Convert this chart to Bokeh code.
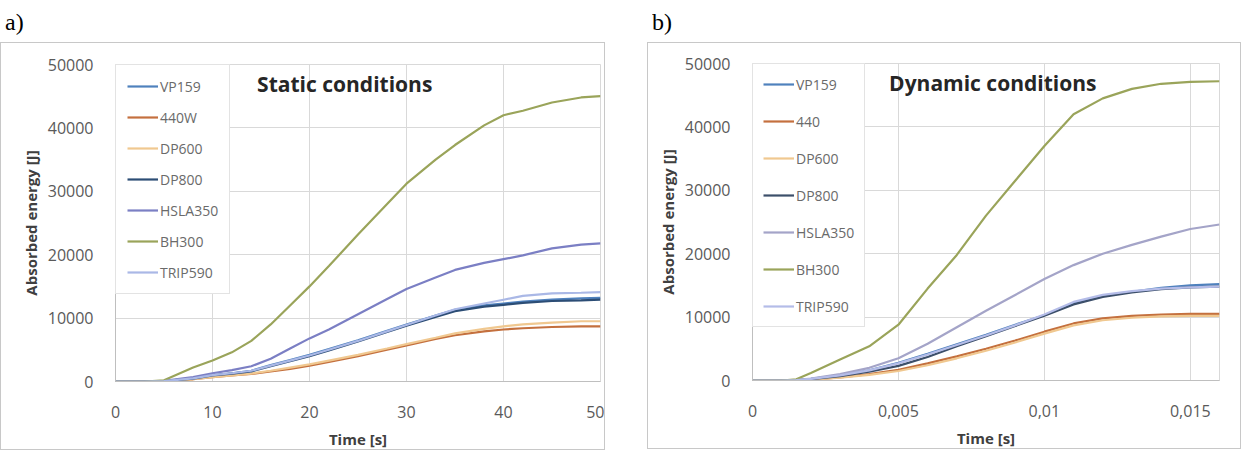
from bokeh.plotting import figure
from bokeh.models import Div, Label, Legend, LegendItem, FixedTicker, PrintfTickFormatter
from bokeh.layouts import row, column
from bokeh.embed import file_html
from bokeh.resources import INLINE

# ---------------- data ----------------
series_static = ["VP159", "440W", "DP600", "DP800", "HSLA350", "BH300", "TRIP590"]
series_dynamic = ["VP159", "440", "DP600", "DP800", "HSLA350", "BH300", "TRIP590"]

t_static = [0, 3, 5, 8, 10, 12, 14, 16, 18, 20, 22, 25, 28, 30, 33, 35, 38, 40, 42, 45, 48, 50]
static_VP159 = [0, 0, 50, 500, 1000, 1300, 1700, 2600, 3400, 4200, 5100, 6500, 8000, 9000, 10400, 11300, 12000, 12300, 12600, 12900, 13100, 13200]
static_440W = [0, 0, 50, 350, 700, 950, 1200, 1600, 2000, 2500, 3100, 4000, 5000, 5700, 6700, 7300, 7900, 8200, 8400, 8600, 8700, 8700]
static_DP600 = [0, 0, 50, 350, 700, 950, 1250, 1700, 2200, 2700, 3300, 4200, 5200, 5900, 6900, 7600, 8300, 8700, 9000, 9300, 9500, 9500]
static_DP800 = [0, 0, 50, 450, 950, 1250, 1600, 2400, 3200, 4000, 4900, 6300, 7800, 8800, 10200, 11100, 11800, 12100, 12400, 12700, 12800, 12900]
static_HSLA350 = [0, 0, 100, 700, 1300, 1800, 2400, 3600, 5200, 6800, 8200, 10600, 13000, 14600, 16400, 17600, 18700, 19300, 19900, 21000, 21600, 21800]
static_BH300 = [0, 0, 200, 2200, 3300, 4600, 6400, 9000, 12000, 15000, 18200, 23200, 28000, 31200, 35000, 37300, 40400, 42000, 42700, 44000, 44800, 45000]
static_TRIP590 = [0, 0, 50, 500, 1000, 1300, 1700, 2500, 3300, 4100, 5000, 6400, 7900, 8900, 10400, 11400, 12300, 12900, 13500, 13900, 14000, 14100]

t_dynamic = [0, 0.001, 0.0015, 0.002, 0.003, 0.004, 0.005, 0.006, 0.007, 0.008, 0.009, 0.010, 0.011, 0.012, 0.013, 0.014, 0.015, 0.016]
dyn_VP159 = [0, 0, 50, 250, 800, 1600, 2800, 4200, 5700, 7200, 8800, 10300, 12200, 13300, 14000, 14600, 15000, 15200]
dyn_440 = [0, 0, 30, 150, 500, 1000, 1700, 2700, 3800, 5000, 6300, 7700, 9000, 9800, 10200, 10400, 10500, 10500]
dyn_DP600 = [0, 0, 30, 150, 450, 900, 1500, 2400, 3500, 4700, 6000, 7400, 8700, 9500, 9900, 10100, 10200, 10200]
dyn_DP800 = [0, 0, 50, 200, 700, 1400, 2300, 3700, 5400, 7000, 8600, 10200, 12000, 13200, 13900, 14400, 14700, 14800]
dyn_HSLA350 = [0, 0, 50, 300, 1000, 2000, 3500, 5800, 8400, 11000, 13500, 16000, 18200, 20000, 21400, 22700, 23900, 24600]
dyn_BH300 = [0, 0, 200, 1200, 3300, 5400, 8800, 14500, 19800, 26000, 31500, 37000, 42000, 44500, 46000, 46800, 47100, 47200]
dyn_TRIP590 = [0, 0, 50, 250, 800, 1600, 2700, 4100, 5600, 7100, 8700, 10400, 12400, 13500, 14100, 14500, 14700, 14800]

y_ticks = [0, 10000, 20000, 30000, 40000, 50000]
x_ticks_static = [0, 10, 20, 30, 40, 50]
x_ticks_dynamic = [0, 0.005, 0.01, 0.015]
x_tick_labels_dynamic = ["0", "0,005", "0,01", "0,015"]

colors = ["#4f81bd", "#c4703e", "#f0c890", "#2c4d75", "#7b7fc4", "#9aa45a", "#aab8e6"]
colors_dyn = ["#4f81bd", "#c4703e", "#f0c890", "#3c4f6a", "#a4a4c8", "#9aa45a", "#b4bce8"]

FONT = "Open Sans"
TICK_COLOR = "#5a5a5a"


def make_fig(width, height, x_end, xticks, bl, br, bt, bb):
    p = figure(width=width, height=height, output_backend="svg", toolbar_location=None,
               x_range=(0, x_end), y_range=(0, 50000),
               min_border_left=bl, min_border_right=br, min_border_top=bt, min_border_bottom=bb)
    p.background_fill_color = "white"
    p.border_fill_color = "white"
    p.outline_line_color = "#d9d9d9"
    p.styles = {"border": "1px solid #c8c8c8", "box-sizing": "border-box"}
    for ax in (p.xaxis[0], p.yaxis[0]):
        ax.axis_line_color = "#bfbfbf"
        ax.major_tick_line_color = None
        ax.minor_tick_line_color = None
        ax.major_label_text_font = FONT
        ax.major_label_text_font_size = "16px"
        ax.major_label_text_color = TICK_COLOR
        ax.axis_label_text_font = FONT
        ax.axis_label_text_font_style = "bold"
        ax.axis_label_text_font_size = "15px"
        ax.axis_label_text_color = "#404040"
    p.xaxis.ticker = FixedTicker(ticks=xticks)
    p.yaxis.ticker = FixedTicker(ticks=y_ticks)
    p.yaxis.formatter = PrintfTickFormatter(format="%d")
    p.xaxis.major_label_standoff = 18
    p.yaxis.major_label_standoff = 16
    p.xaxis.axis_label_standoff = 8
    p.yaxis.axis_label_standoff = 4
    p.xaxis.axis_label = "Time [s]"
    p.yaxis.axis_label = "Absorbed energy [J]"
    p.xgrid.ticker = FixedTicker(ticks=xticks)
    p.ygrid.ticker = FixedTicker(ticks=y_ticks)
    p.grid.grid_line_color = "#d9d9d9"
    p.grid.grid_line_width = 1
    return p


def add_legend(p, items, spacing, padding):
    leg = Legend(items=items, location="top_left", margin=0,
                 label_text_font=FONT, label_text_font_size="14px", label_text_color="#6a6a6a",
                 glyph_width=31, glyph_height=20, label_height=20, label_standoff=2,
                 spacing=spacing, padding=padding,
                 border_line_color="#c8c8c8", background_fill_color="white", background_fill_alpha=1.0)
    p.add_layout(leg)


# ---------------- static ----------------
pa = make_fig(605, 408, 50, x_ticks_static, 114, 6, 21, 67)
static_data = [static_VP159, static_440W, static_DP600, static_DP800, static_HSLA350, static_BH300, static_TRIP590]
items_a = []
for name, ys, c in zip(series_static, static_data, colors):
    r = pa.line(t_static, ys, line_color=c, line_width=2.2)
    items_a.append(LegendItem(label=name, renderers=[r]))
add_legend(pa, items_a, 11, 11)
pa.add_layout(Label(x=14.6, y=47000, text="Static conditions", text_font=FONT, text_font_style="bold",
                    text_font_size="21px", text_color="#262626", text_baseline="middle"))

# ---------------- dynamic ----------------
pb = make_fig(594, 407, 0.016, x_ticks_dynamic, 104, 23, 20, 67)
pb.xaxis.major_label_overrides = {t: s for t, s in zip(x_ticks_dynamic, x_tick_labels_dynamic)}
dyn_data = [dyn_VP159, dyn_440, dyn_DP600, dyn_DP800, dyn_HSLA350, dyn_BH300, dyn_TRIP590]
items_b = []
for name, ys, c in zip(series_dynamic, dyn_data, colors_dyn):
    r = pb.line(t_dynamic, ys, line_color=c, line_width=2.2)
    items_b.append(LegendItem(label=name, renderers=[r]))
add_legend(pb, items_b, 17, 10)
pb.add_layout(Label(x=0.00468, y=46900, text="Dynamic conditions", text_font=FONT, text_font_style="bold",
                    text_font_size="21px", text_color="#262626", text_baseline="middle"))

div_style = {"font-family": "Liberation Serif", "font-size": "24px", "line-height": "24px",
             "padding-top": "5px", "box-sizing": "border-box", "color": "#000", "overflow": "hidden"}
da = Div(text="a)", width=605, height=32, styles=div_style)
db = Div(text="b)", width=594, height=32, styles=div_style)

layout = row(column(da, pa, spacing=0), column(db, pb, spacing=0), spacing=32)

open("out.html", "w").write(file_html(layout, INLINE))
